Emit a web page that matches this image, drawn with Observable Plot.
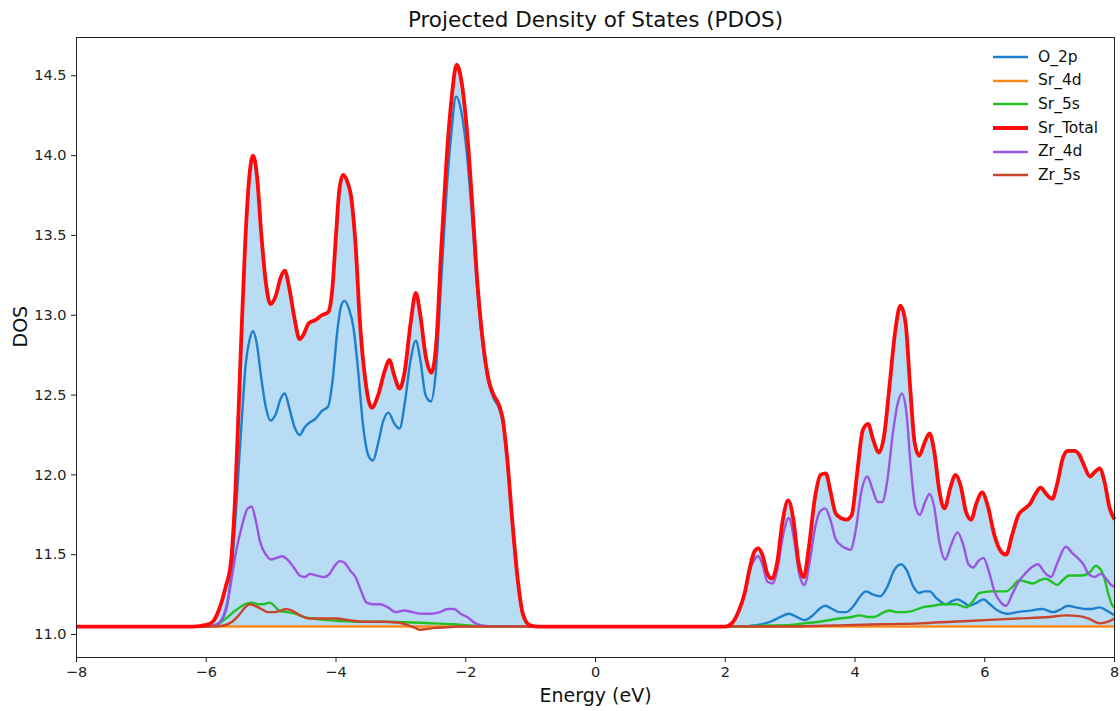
<!DOCTYPE html>
<html>
<head>
<meta charset="utf-8">
<script src="https://cdn.jsdelivr.net/npm/d3@7"></script>
<script src="https://cdn.jsdelivr.net/npm/@observablehq/plot@0.6"></script>
<style>
  html, body { margin: 0; padding: 0; background: #fff; }
  #wrap { position: relative; width: 1120px; height: 711px; font-family: "DejaVu Sans", sans-serif; }
  .leg { position: absolute; left: 993px; height: 20px; line-height: 20px; font-size: 15.5px; color: #111; white-space: nowrap; }
  .leg svg { vertical-align: middle; margin-right: 10px; }
</style>
</head>
<body>
<div id="wrap"></div>
<script>
// ---------- data (energy eV, DOS) ----------
const baseline = 11.05;
const seriesNames = ["O_2p", "Sr_4d", "Sr_5s", "Sr_Total", "Zr_4d", "Zr_5s"];
const seriesColors = ["#1f7fcf", "#ff8a1c", "#22c022", "#ff0a0a", "#9b55e0", "#c8442a"];
const xTicks = [-8, -6, -4, -2, 0, 2, 4, 6, 8];
const yTicks = [11.0, 11.5, 12.0, 12.5, 13.0, 13.5, 14.0, 14.5];

const O_2p = [[-8,11.05],[-6.0,11.05],[-5.85,11.06],[-5.75,11.1],[-5.67,11.2],[-5.60,11.45],[-5.53,11.85],[-5.46,12.3],[-5.39,12.7],[-5.33,12.85],[-5.28,12.90],[-5.22,12.82],[-5.15,12.6],[-5.08,12.42],[-5.01,12.34],[-4.93,12.38],[-4.85,12.48],[-4.79,12.51],[-4.72,12.42],[-4.64,12.3],[-4.56,12.25],[-4.48,12.3],[-4.40,12.33],[-4.32,12.35],[-4.22,12.40],[-4.12,12.43],[-4.05,12.6],[-3.98,12.9],[-3.92,13.06],[-3.87,13.09],[-3.80,13.04],[-3.73,12.92],[-3.67,12.7],[-3.58,12.3],[-3.50,12.12],[-3.43,12.09],[-3.35,12.2],[-3.27,12.34],[-3.19,12.39],[-3.10,12.32],[-3.02,12.29],[-2.94,12.45],[-2.85,12.72],[-2.77,12.84],[-2.70,12.72],[-2.62,12.5],[-2.54,12.46],[-2.46,12.65],[-2.38,13.2],[-2.30,13.75],[-2.22,14.15],[-2.15,14.37],[-2.07,14.28],[-1.98,14.0],[-1.90,13.6],[-1.82,13.15],[-1.74,12.82],[-1.65,12.58],[-1.57,12.48],[-1.49,12.42],[-1.43,12.33],[-1.36,12.08],[-1.28,11.68],[-1.20,11.33],[-1.12,11.12],[-1.02,11.06],[-0.9,11.05],[2.2,11.05],[2.5,11.06],[2.7,11.08],[2.85,11.11],[2.98,11.13],[3.10,11.11],[3.22,11.09],[3.35,11.12],[3.45,11.16],[3.54,11.18],[3.65,11.16],[3.76,11.14],[3.86,11.14],[3.98,11.18],[4.08,11.24],[4.17,11.27],[4.28,11.25],[4.39,11.24],[4.50,11.3],[4.60,11.4],[4.71,11.44],[4.80,11.4],[4.90,11.3],[4.99,11.26],[5.07,11.27],[5.15,11.27],[5.25,11.23],[5.40,11.19],[5.50,11.21],[5.58,11.22],[5.68,11.2],[5.76,11.18],[5.88,11.2],[5.98,11.22],[6.08,11.19],[6.20,11.15],[6.35,11.13],[6.50,11.14],[6.70,11.15],[6.89,11.16],[7.05,11.14],[7.18,11.16],[7.28,11.18],[7.40,11.17],[7.55,11.16],[7.65,11.16],[7.77,11.17],[7.88,11.15],[8.0,11.12]];

const Sr_4d = [[-8,11.05],[8,11.05]];

const Sr_5s = [[-8,11.05],[-6.0,11.05],[-5.85,11.06],[-5.7,11.1],[-5.55,11.15],[-5.40,11.19],[-5.30,11.2],[-5.20,11.19],[-5.12,11.19],[-5.02,11.2],[-4.95,11.18],[-4.88,11.15],[-4.75,11.14],[-4.62,11.13],[-4.50,11.11],[-4.35,11.1],[-4.15,11.09],[-3.95,11.085],[-3.6,11.08],[-3.2,11.08],[-2.8,11.075],[-2.5,11.07],[-2.2,11.065],[-1.9,11.055],[-1.6,11.05],[2.2,11.05],[2.6,11.055],[3.0,11.06],[3.22,11.07],[3.45,11.08],[3.76,11.1],[3.95,11.11],[4.07,11.12],[4.2,11.11],[4.3,11.11],[4.45,11.14],[4.53,11.15],[4.65,11.14],[4.77,11.14],[4.9,11.15],[5.04,11.17],[5.2,11.18],[5.35,11.19],[5.56,11.19],[5.71,11.17],[5.80,11.2],[5.92,11.26],[6.1,11.27],[6.33,11.27],[6.43,11.3],[6.53,11.34],[6.64,11.33],[6.74,11.32],[6.85,11.34],[6.94,11.35],[7.03,11.33],[7.12,11.31],[7.2,11.34],[7.30,11.37],[7.51,11.37],[7.62,11.39],[7.71,11.43],[7.78,11.41],[7.84,11.36],[7.90,11.26],[7.97,11.18],[8.0,11.17]];

const Sr_Total = [[-8,11.05],[-6.2,11.05],[-6.0,11.06],[-5.9,11.08],[-5.8,11.16],[-5.7,11.30],[-5.62,11.45],[-5.55,11.9],[-5.47,12.75],[-5.40,13.45],[-5.34,13.85],[-5.28,14.0],[-5.22,13.88],[-5.15,13.5],[-5.08,13.2],[-5.01,13.07],[-4.93,13.12],[-4.85,13.24],[-4.79,13.28],[-4.72,13.17],[-4.64,12.98],[-4.56,12.85],[-4.50,12.88],[-4.42,12.95],[-4.32,12.97],[-4.22,13.0],[-4.12,13.02],[-4.06,13.15],[-4.0,13.5],[-3.95,13.78],[-3.89,13.88],[-3.82,13.83],[-3.77,13.75],[-3.70,13.45],[-3.63,12.95],[-3.55,12.6],[-3.45,12.42],[-3.35,12.5],[-3.25,12.65],[-3.18,12.72],[-3.10,12.62],[-3.02,12.54],[-2.94,12.65],[-2.85,12.95],[-2.77,13.14],[-2.70,13.0],[-2.62,12.75],[-2.53,12.64],[-2.45,12.85],[-2.38,13.4],[-2.30,13.95],[-2.22,14.35],[-2.14,14.57],[-2.06,14.45],[-1.98,14.15],[-1.90,13.7],[-1.82,13.2],[-1.74,12.85],[-1.65,12.6],[-1.57,12.5],[-1.49,12.44],[-1.43,12.35],[-1.36,12.1],[-1.28,11.7],[-1.20,11.35],[-1.12,11.13],[-1.02,11.06],[-0.9,11.05],[2.0,11.05],[2.1,11.07],[2.2,11.14],[2.3,11.26],[2.38,11.42],[2.45,11.52],[2.51,11.54],[2.58,11.49],[2.65,11.38],[2.72,11.35],[2.80,11.45],[2.88,11.7],[2.97,11.84],[3.05,11.72],[3.13,11.45],[3.21,11.36],[3.29,11.55],[3.38,11.85],[3.47,12.0],[3.55,12.01],[3.62,11.9],[3.70,11.76],[3.78,11.73],[3.87,11.72],[3.95,11.75],[4.03,12.0],[4.12,12.28],[4.20,12.32],[4.28,12.22],[4.37,12.14],[4.45,12.25],[4.53,12.55],[4.62,12.9],[4.70,13.06],[4.78,12.95],[4.85,12.55],[4.92,12.2],[4.99,12.12],[5.07,12.2],[5.15,12.26],[5.22,12.15],[5.30,11.9],[5.38,11.79],[5.47,11.92],[5.55,12.0],[5.63,11.93],[5.71,11.77],[5.79,11.72],[5.87,11.82],[5.96,11.89],[6.05,11.8],[6.15,11.62],[6.25,11.52],[6.33,11.50],[6.42,11.62],[6.52,11.75],[6.62,11.79],[6.70,11.82],[6.78,11.88],[6.86,11.92],[6.95,11.88],[7.04,11.85],[7.12,11.95],[7.20,12.1],[7.28,12.15],[7.38,12.15],[7.45,12.13],[7.53,12.06],[7.62,11.99],[7.70,12.02],[7.77,12.04],[7.85,11.95],[7.92,11.8],[8.0,11.72]];

const Zr_4d = [[-8,11.05],[-6.0,11.05],[-5.85,11.06],[-5.75,11.1],[-5.65,11.25],[-5.55,11.5],[-5.45,11.68],[-5.36,11.79],[-5.30,11.80],[-5.24,11.72],[-5.17,11.58],[-5.08,11.5],[-5.0,11.47],[-4.92,11.48],[-4.83,11.49],[-4.75,11.47],[-4.65,11.42],[-4.56,11.37],[-4.48,11.36],[-4.40,11.38],[-4.30,11.37],[-4.18,11.36],[-4.10,11.38],[-4.02,11.43],[-3.94,11.46],[-3.87,11.45],[-3.78,11.40],[-3.70,11.36],[-3.62,11.28],[-3.53,11.20],[-3.43,11.19],[-3.32,11.19],[-3.20,11.17],[-3.08,11.14],[-2.95,11.15],[-2.82,11.14],[-2.68,11.13],[-2.55,11.13],[-2.40,11.14],[-2.28,11.16],[-2.18,11.16],[-2.08,11.13],[-1.98,11.11],[-1.85,11.07],[-1.72,11.055],[-1.6,11.05],[2.0,11.05],[2.1,11.07],[2.2,11.14],[2.3,11.26],[2.38,11.40],[2.45,11.47],[2.51,11.49],[2.58,11.43],[2.65,11.33],[2.73,11.32],[2.81,11.42],[2.89,11.62],[2.98,11.73],[3.06,11.6],[3.14,11.38],[3.22,11.31],[3.30,11.45],[3.38,11.66],[3.46,11.77],[3.54,11.79],[3.62,11.72],[3.70,11.6],[3.78,11.56],[3.86,11.54],[3.93,11.53],[4.01,11.65],[4.10,11.9],[4.19,11.99],[4.27,11.91],[4.35,11.83],[4.42,11.83],[4.50,11.97],[4.58,12.25],[4.66,12.45],[4.72,12.51],[4.79,12.4],[4.86,12.05],[4.93,11.8],[5.00,11.75],[5.08,11.83],[5.15,11.88],[5.22,11.8],[5.30,11.58],[5.39,11.47],[5.48,11.56],[5.58,11.64],[5.67,11.56],[5.75,11.44],[5.82,11.42],[5.90,11.46],[5.98,11.48],[6.06,11.4],[6.15,11.27],[6.25,11.2],[6.33,11.18],[6.42,11.25],[6.52,11.33],[6.62,11.38],[6.72,11.42],[6.82,11.44],[6.92,11.39],[7.02,11.36],[7.12,11.45],[7.25,11.55],[7.35,11.51],[7.43,11.48],[7.52,11.44],[7.60,11.38],[7.69,11.36],[7.79,11.38],[7.87,11.35],[7.95,11.31],[8.0,11.30]];

const Zr_5s = [[-8,11.05],[-5.95,11.05],[-5.75,11.055],[-5.6,11.08],[-5.5,11.12],[-5.40,11.17],[-5.33,11.19],[-5.25,11.18],[-5.15,11.16],[-5.05,11.14],[-4.95,11.14],[-4.85,11.15],[-4.77,11.16],[-4.68,11.15],[-4.55,11.12],[-4.42,11.1],[-4.25,11.1],[-4.0,11.1],[-3.8,11.09],[-3.55,11.08],[-3.3,11.08],[-3.05,11.075],[-2.9,11.06],[-2.8,11.045],[-2.7,11.03],[-2.6,11.035],[-2.5,11.04],[-2.3,11.045],[-2.1,11.05],[2.4,11.05],[3.0,11.05],[3.5,11.055],[4.0,11.06],[4.5,11.065],[5.0,11.07],[5.5,11.08],[6.0,11.09],[6.5,11.10],[7.0,11.11],[7.25,11.12],[7.45,11.115],[7.6,11.1],[7.77,11.07],[7.9,11.08],[8.0,11.10]];

// ---------- build ----------
const seriesData = {O_2p, Sr_4d, Sr_5s, Sr_Total, Zr_4d, Zr_5s};
const rowsOf = (name) => seriesData[name].map(([E, D]) => ({series: name, E, DOS: D}));
const colorOf = (name) => seriesColors[seriesNames.indexOf(name)];
const widthOf = (name) => name === "Sr_Total" ? 3.8 : 2.4;
const curve = "monotone-x";
const drawOrder = ["O_2p", "Sr_4d", "Sr_5s", "Zr_4d", "Zr_5s", "Sr_Total"];

const chart = Plot.plot({
  width: 1120,
  height: 711,
  marginLeft: 76,
  marginRight: 6,
  marginTop: 37,
  marginBottom: 54,
  style: {fontFamily: "DejaVu Sans, sans-serif", background: "#fff", color: "#222"},
  x: {domain: [-8, 8]},
  y: {domain: [10.856, 14.74]},
  marks: [
    Plot.areaY(rowsOf("Sr_Total"), {x: "E", y1: baseline, y2: "DOS", curve, fill: "#b8dcf4"}),
    ...drawOrder.map(name => Plot.line(rowsOf(name), {
      x: "E", y: "DOS", curve,
      stroke: colorOf(name),
      strokeWidth: widthOf(name),
      strokeLinejoin: "round", strokeLinecap: "butt"
    })),
    Plot.frame({stroke: "#222", strokeWidth: 1}),
    Plot.axisX({ticks: xTicks, tickFormat: d3.format("d"), tickSize: 5, tickPadding: 4, fontSize: 14.5, label: null, stroke: "#222"}),
    Plot.axisY({ticks: yTicks, tickFormat: d3.format(".1f"), tickSize: 5, tickPadding: 5, fontSize: 14.5, label: null, stroke: "#222"}),
    Plot.text(["Energy (eV)"], {frameAnchor: "bottom", lineAnchor: "middle", dy: 38, fontSize: 19, fill: "#111"}),
    Plot.text(["DOS"], {frameAnchor: "left", lineAnchor: "middle", dx: -56, rotate: -90, fontSize: 19, fill: "#111"}),
    Plot.text(["Projected Density of States (PDOS)"], {frameAnchor: "top", lineAnchor: "middle", dy: -17, fontSize: 21.5, fill: "#111"})
  ]
});

const wrap = document.getElementById("wrap");
wrap.appendChild(chart);

// legend (line swatches)
seriesNames.forEach((name, i) => {
  const row = document.createElement("div");
  row.className = "leg";
  row.style.top = (56.7 + 23.6 * i - 10) + "px";
  row.innerHTML = `<svg width="35" height="8"><line x1="0" y1="4" x2="35" y2="4" stroke="${colorOf(name)}" stroke-width="${widthOf(name)}"/></svg>${name}`;
  wrap.appendChild(row);
});
</script>
</body>
</html>
